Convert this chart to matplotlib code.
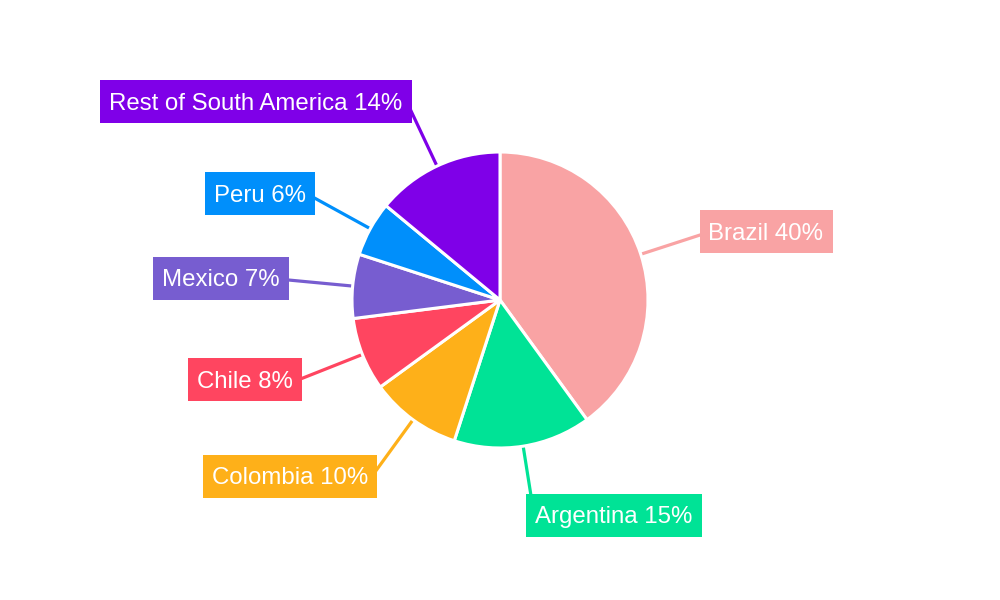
import numpy as np
import matplotlib.pyplot as plt
from matplotlib.patches import Rectangle

plt.rcParams['font.family'] = ['Liberation Sans', 'DejaVu Sans']

# data
countries = ['Brazil', 'Argentina', 'Colombia', 'Chile', 'Mexico', 'Peru',
             'Rest of South America']
shares = [40, 15, 10, 8, 7, 6, 14]
colors = ['#F9A3A4', '#00E396', '#FEB019', '#FF4560', '#775DD0', '#008FFB',
          '#7F00E8']

# label box centres (pixels from top-left)
label_pos = [(766, 231), (614, 515), (290, 476), (245, 379), (221, 278),
             (260, 193), (256, 101)]

W, H = 1000, 600
cx, cy, r = 500, 300, 148
box_h, pad_x, cap = 43, 9, 17

fig = plt.figure(figsize=(10, 6), dpi=100)
ax = fig.add_axes([0, 0, 1, 1])

wedges, _ = ax.pie(shares, colors=colors, startangle=90, counterclock=False,
                   center=(cx, cy), radius=r, frame=True,
                   wedgeprops=dict(edgecolor='white', linewidth=2.2))
ax.set_xlim(0, W)
ax.set_ylim(0, H)
ax.set_aspect('equal')
ax.axis('off')
for w in wedges:
    w.set_zorder(2)

texts = []
for name, val, (lx, ly) in zip(countries, shares, label_pos):
    t = ax.text(lx, H - ly - cap / 2, f'{name} {val}%', color='white',
                fontsize=17.3, ha='center', va='baseline', zorder=5)
    texts.append(t)

fig.canvas.draw()
renderer = fig.canvas.get_renderer()
inv = ax.transData.inverted()

for w, col, t, (lx, ly) in zip(wedges, colors, texts, label_pos):
    bb = t.get_window_extent(renderer)
    (tx0, _), (tx1, _) = inv.transform([[bb.x0, bb.y0], [bb.x1, bb.y1]])
    x0, x1 = tx0 - pad_x, tx1 + pad_x
    y0, y1 = H - ly - box_h / 2, H - ly + box_h / 2
    ax.add_patch(Rectangle((x0, y0), x1 - x0, y1 - y0, fc=col, ec='none',
                           zorder=4))

    # radial leader line from the pie edge until it reaches the label box
    mid = np.deg2rad((w.theta1 + w.theta2) / 2)
    dx, dy = np.cos(mid), np.sin(mid)
    ex, ey = cx + r * dx, cy + r * dy
    ts = []
    for e, d, lo, hi in ((ex, dx, x0, x1), (ey, dy, y0, y1)):
        if abs(d) < 1e-9:
            continue
        ts.append(min((lo - e) / d, (hi - e) / d))
    tt = max(ts) + 3
    ax.plot([ex, ex + dx * tt], [ey, ey + dy * tt], color=col, lw=2.3,
            zorder=1, solid_capstyle='butt')

fig.savefig('out.png', dpi=100, facecolor='white')
